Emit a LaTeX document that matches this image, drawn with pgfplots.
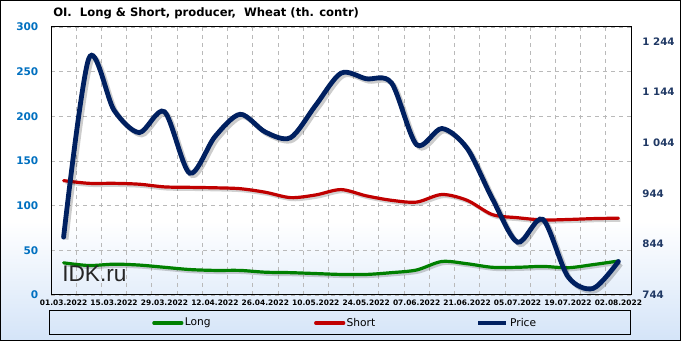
\documentclass[border=0pt]{standalone}
\usepackage{pgfplots}
\pgfplotsset{compat=1.18}
\usepackage{pgfplotstable}
\usepackage{fontspec}
\setmainfont{DejaVu Sans}
\newfontfamily\arialfont{Liberation Sans}
\definecolor{navy}{RGB}{0,32,96}
\definecolor{sred}{RGB}{192,0,0}
\definecolor{lgreen}{RGB}{0,128,0}
\definecolor{lblue}{RGB}{0,112,192}
\definecolor{rnavy}{RGB}{31,56,100}
\definecolor{bgblue}{RGB}{212,228,248}
\definecolor{gridc}{RGB}{185,185,185}

\pgfplotstableread{
i long short price
0 36 128 858
1 33 125 1210
2 34.5 125 1108
3 33.5 124 1064
4 31 121 1105
5 28.5 120.5 984
6 27.5 120 1056
7 27.5 119 1100
8 25.5 115 1065
9 25 109 1054
10 24 112 1118
11 23 118 1181
12 23 111 1170
13 25 106 1162
14 28 104 1040
15 37.5 112.5 1072
16 35 106 1033
17 31 90 934
18 31 86.5 848
19 32 84 893
20 30.5 84.5 780
21 34 85.5 757
22 38 86 810
}\data

\begin{document}
\begin{tikzpicture}
\fill[white] (0,0) rectangle (510.75pt,255.75pt);
\shade[top color=white,bottom color=bgblue] (0,0) rectangle (510.75pt,90pt);
\draw[black,line width=0.75pt] (0.375pt,0.375pt) rectangle (510.375pt,255.375pt);
\node[anchor=west,font=\bfseries\fontsize{8.7}{10}\selectfont,inner sep=0pt] at (39.75pt,246pt) {OI.~ Long \& Short, producer,~ Wheat (th. contr)};
\draw[black,line width=0.75pt] (36.75pt,4.5pt) rectangle (472.75pt,22.5pt);

\begin{axis}[
  at={(38.25pt,34.5pt)}, anchor=south west,
  scale only axis, width=435pt, height=201pt,
  xmin=-0.5, xmax=22.5, ymin=0, ymax=300,
  xtick={0,2,...,22},
  xticklabels={01.03.2022,15.03.2022,29.03.2022,12.04.2022,26.04.2022,10.05.2022,24.05.2022,07.06.2022,21.06.2022,05.07.2022,19.07.2022,02.08.2022},
  minor xtick={0.5,1.5,...,21.5},
  xminorgrids, ymajorgrids,
  ytick={0,50,...,300},
  major tick length=0pt, minor tick length=0pt,
  major grid style={gridc,dash pattern=on 3pt off 3pt,line width=0.6pt},
  minor grid style={gridc,dash pattern=on 3pt off 3pt,line width=0.6pt},
  axis line style={black,line width=0.75pt},
  /pgf/number format/assume math mode=true,
  yticklabel style={font=\bfseries\fontsize{7.9}{10}\selectfont,text=lblue,xshift=-6pt},
  xticklabel style={font=\bfseries\fontsize{5.6}{6.5}\selectfont,text=black},
  legend columns=3,
  legend image code/.code={\draw[#1] (0pt,0pt) -- (21pt,0pt);},
  legend style={draw=none,fill=none,inner sep=0pt,at={(0.1741,-0.1045)},anchor=west,
    nodes={inner sep=0pt,anchor=west},column sep=0pt,
    font=\fontsize{8}{9.6}\selectfont},
]
\addplot[black,opacity=0.18,line width=2.4pt,smooth,xshift=1.5pt,yshift=-1.5pt,forget plot] table[x=i,y=long]{\data};
\addplot[black,opacity=0.18,line width=2.4pt,smooth,xshift=1.5pt,yshift=-1.5pt,forget plot] table[x=i,y=short]{\data};
\addplot[lgreen,line width=2.4pt,smooth,line cap=round] table[x=i,y=long]{\data};
\addlegendentry{\makebox[98pt][l]{\hspace{1pt}Long}}
\addplot[sred,line width=2.4pt,smooth,line cap=round] table[x=i,y=short]{\data};
\addlegendentry{\makebox[98pt][l]{\hspace{1pt}Short}}
\addlegendimage{navy,line width=3.6pt}
\addlegendentry{\hspace{1pt}Price}
\node[anchor=base west,font=\arialfont\fontsize{17}{17}\selectfont,text=black!85,inner sep=0pt] at (axis description cs:0.019,0.05) {IDK.ru};
\end{axis}

\begin{axis}[
  at={(38.25pt,34.5pt)}, anchor=south west,
  scale only axis, width=435pt, height=201pt,
  xmin=-0.5, xmax=22.5, ymin=744, ymax=1272,
  axis x line=none, axis y line*=right,
  ytick={744,844,...,1244},
  major tick length=0pt,
  axis line style={black,line width=0.75pt},
  /pgf/number format/assume math mode=true,
  /pgf/number format/1000 sep={\ },
  yticklabel style={font=\bfseries\fontsize{7.7}{10}\selectfont,text=rnavy,anchor=west,xshift=5pt},
]
\addplot[black,opacity=0.2,line width=3.6pt,smooth,xshift=1.8pt,yshift=-1.8pt] table[x=i,y=price]{\data};
\addplot[navy,line width=3.6pt,smooth,line cap=round] table[x=i,y=price]{\data};
\end{axis}
\end{tikzpicture}
\end{document}
